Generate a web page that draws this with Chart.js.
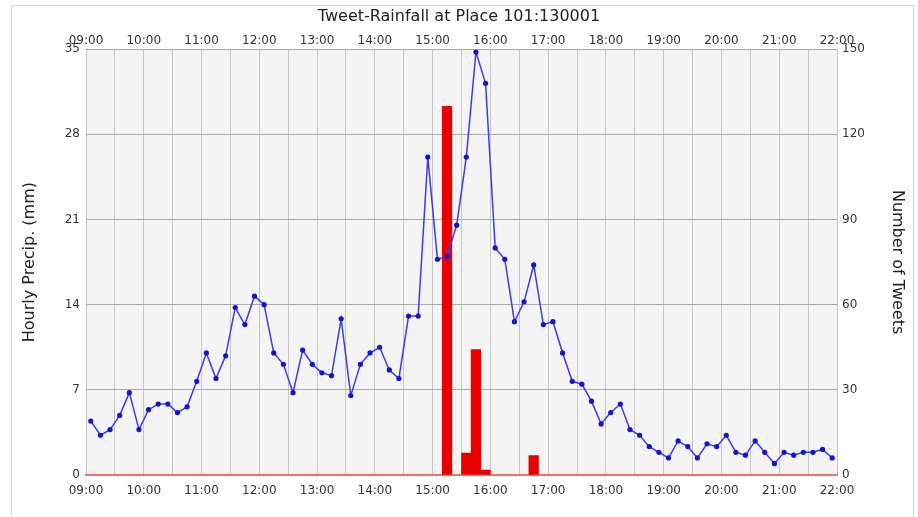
<!DOCTYPE html>
<html>
<head>
<meta charset="utf-8">
<title>Tweet-Rainfall at Place 101:130001</title>
<script src="https://cdn.jsdelivr.net/npm/chart.js@4/dist/chart.umd.min.js"></script>
<style>
  body { margin: 0; background: #fff; }
  #wrap { position: relative; width: 918px; height: 517px; overflow: hidden; }
  #frame { position: absolute; left: 11px; top: 5px; width: 903px; height: 530px;
           border: 1px solid #d6d6d6; box-sizing: border-box; pointer-events: none; }
</style>
</head>
<body>
<div id="wrap">
  <canvas id="tweetRain" width="918" height="517"></canvas>
  <div id="frame"></div>
</div>
<script>
// tweets per 10-minute bin, first bin centred on 09:05
const tweetStart = '09:05';
const tweetCounts = [
  19, 14, 16, 21, 29, 16, 23, 25, 25, 22, 24, 33,
  43, 34, 42, 59, 53, 63, 60, 43, 39, 29, 44, 39,
  36, 35, 55, 28, 39, 43, 45, 37, 34, 56, 56, 112,
  76, 77, 88, 112, 149, 138, 80, 76, 54, 61, 74, 53,
  54, 43, 33, 32, 26, 18, 22, 25, 16, 14, 10, 8,
  6, 12, 10, 6, 11, 10, 14, 8, 7, 12, 8, 4,
  8, 7, 8, 8, 9, 6
];

// rainfall (mm), 10-minute bins given by their start time
const rainBins = ['15:10', '15:30', '15:40', '15:50', '16:40'];
const rainMm = [30.3, 1.8, 10.3, 0.4, 1.6];

// axis ticks
const hourTicks = ['09:00', '10:00', '11:00', '12:00', '13:00', '14:00', '15:00',
                   '16:00', '17:00', '18:00', '19:00', '20:00', '21:00', '22:00'];
const precipTicks = [0, 7, 14, 21, 28, 35];
const tweetTicks = [0, 30, 60, 90, 120, 150];

function toMin(t) {
  const p = t.split(':');
  return parseInt(p[0], 10) * 60 + parseInt(p[1], 10);
}

const xMin = toMin(hourTicks[0]);
const xMax = toMin(hourTicks[hourTicks.length - 1]);

const tweetPoints = tweetCounts.map((v, i) => ({ x: toMin(tweetStart) + i * 10, y: v }));
const rainPoints = rainBins.map((t, i) => ({ x: toMin(t) + 5, y: rainMm[i] }));

function hourLabel(v) {
  if (v % 60 !== 0) return '';
  const h = v / 60;
  return (h < 10 ? '0' : '') + h + ':00';
}

const plotBg = {
  id: 'plotBg',
  beforeDraw(chart) {
    const a = chart.chartArea;
    const ctx = chart.ctx;
    ctx.save();
    ctx.fillStyle = '#f4f4f4';
    ctx.fillRect(a.left, a.top, a.right - a.left, a.bottom - a.top);
    ctx.restore();
  }
};

Chart.defaults.font.family = '"DejaVu Sans", sans-serif';
Chart.defaults.color = '#333';

const tickFont = { size: 12 };

new Chart(document.getElementById('tweetRain').getContext('2d'), {
  type: 'line',
  data: {
    datasets: [{
      type: 'line',
      label: 'Number of Tweets',
      data: tweetPoints,
      yAxisID: 'yTweets',
      xAxisID: 'x',
      borderColor: '#3b3be8',
      borderWidth: 1.5,
      pointRadius: 2.6,
      pointBorderWidth: 0,
      pointBackgroundColor: '#1414c8',
      tension: 0,
      order: 0
    }, {
      type: 'bar',
      label: 'Hourly Precip. (mm)',
      data: rainPoints,
      yAxisID: 'yPrecip',
      xAxisID: 'x',
      backgroundColor: '#e80000',
      borderWidth: 0,
      barPercentage: 1,
      categoryPercentage: 1,
      order: 1
    }]
  },
  options: {
    responsive: false,
    animation: false,
    layout: { padding: 0 },
    plugins: {
      legend: { display: false },
      tooltip: { enabled: false },
      title: {
        display: true,
        text: 'Tweet-Rainfall at Place 101:130001',
        color: '#222',
        font: { size: 16, weight: 'normal' },
        padding: { top: 7, bottom: 2 }
      }
    },
    scales: {
      x: {
        type: 'linear',
        position: 'bottom',
        offset: false,
        min: xMin,
        max: xMax,
        afterFit: s => { s.height = 42; },
        ticks: {
          stepSize: 30,
          autoSkip: false,
          maxRotation: 0,
          padding: 9,
          font: tickFont,
          callback: v => hourLabel(v)
        },
        grid: { color: '#c6c6c6', drawTicks: false, offset: false },
        border: { display: true, color: '#f07070', width: 2 }
      },
      xTop: {
        type: 'linear',
        position: 'top',
        offset: false,
        min: xMin,
        max: xMax,
        afterFit: s => { s.height = 21; },
        ticks: {
          stepSize: 30,
          autoSkip: false,
          maxRotation: 0,
          padding: 1,
          font: tickFont,
          callback: v => hourLabel(v)
        },
        grid: { display: false, drawTicks: false },
        border: { display: false }
      },
      yPrecip: {
        type: 'linear',
        position: 'left',
        min: precipTicks[0],
        max: precipTicks[precipTicks.length - 1],
        afterFit: s => { s.width = 86; },
        ticks: { stepSize: precipTicks[1] - precipTicks[0], padding: 6, font: tickFont },
        grid: {
          drawTicks: false,
          color: c => (c.tick && c.tick.value === 0) ? 'rgba(0,0,0,0)' : '#a9a9a9'
        },
        border: { display: false },
        title: {
          display: true,
          text: 'Hourly Precip. (mm)',
          color: '#222',
          font: { size: 16 },
          padding: { top: 20, bottom: 0 }
        }
      },
      yTweets: {
        type: 'linear',
        position: 'right',
        min: tweetTicks[0],
        max: tweetTicks[tweetTicks.length - 1],
        afterFit: s => { s.width = 81; },
        ticks: { stepSize: tweetTicks[1] - tweetTicks[0], padding: 5, font: tickFont },
        grid: { display: false, drawTicks: false },
        border: { display: false },
        title: {
          display: true,
          text: 'Number of Tweets',
          color: '#222',
          font: { size: 16 },
          padding: { top: 11, bottom: 0 }
        }
      }
    }
  },
  plugins: [plotBg]
});
</script>
</body>
</html>
